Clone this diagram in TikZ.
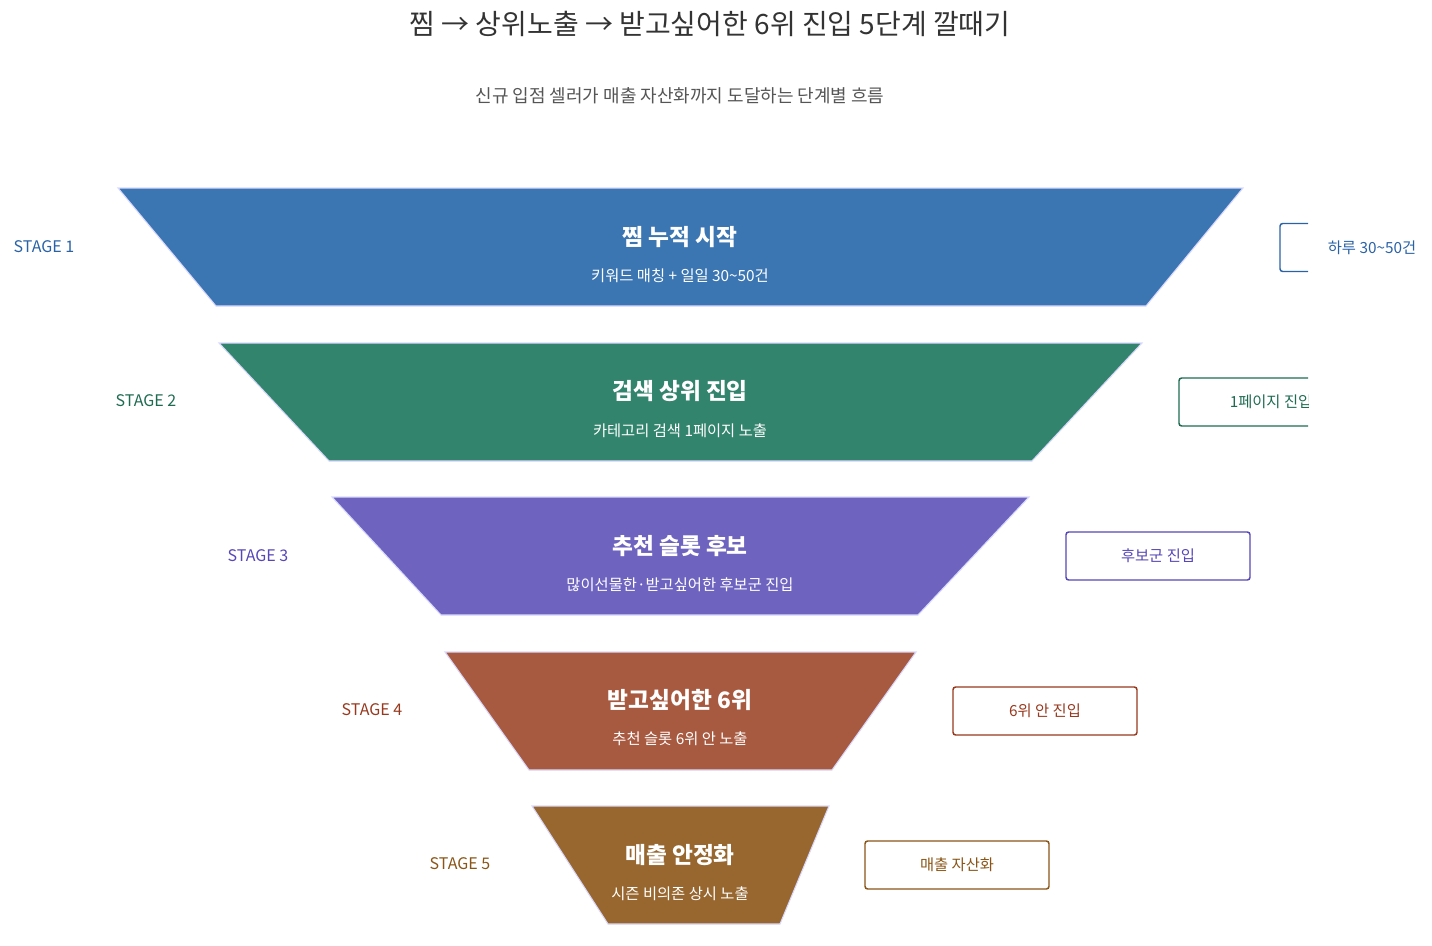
\documentclass[tikz,border=0pt]{standalone}
\usepackage{fontspec}
\setmainfont{Noto Sans CJK KR}
\newfontfamily\kb{Noto Sans CJK KR}[BoldFont={* Bold}]
\begin{document}
\begin{tikzpicture}[x=0.75pt,y=-0.75pt,
 trap/.style={draw=white!85!blue,line width=0.8pt},
 main/.style={text=white,font=\bfseries\fontsize{17}{20}\selectfont},
 sub/.style={text=white,font=\fontsize{11.5}{14}\selectfont},
 stg/.style={font=\fontsize{12}{14}\selectfont},
 bx/.style={draw,line width=1.1pt,rounded corners=2pt,font=\fontsize{11.5}{14}\selectfont,minimum width=138pt,minimum height=36pt,inner sep=0pt}]
\useasboundingbox (0,0) rectangle (1432,946);
\definecolor{c1}{HTML}{3B76B2}\definecolor{d1}{HTML}{2A62A6}
\definecolor{c2}{HTML}{33846D}\definecolor{d2}{HTML}{1F6B52}
\definecolor{c3}{HTML}{6E64C0}\definecolor{d3}{HTML}{5646B8}
\definecolor{c4}{HTML}{A85A40}\definecolor{d4}{HTML}{97391E}
\definecolor{c5}{HTML}{97672F}\definecolor{d5}{HTML}{8A5516}
\node (title) at (710,24) {\fontsize{21}{25}\selectfont\color[HTML]{333333}찜 → 상위노출 → 받고싶어한 6위 진입 5단계 깔때기};
\node (subt) at (680,96) {\fontsize{13.5}{16}\selectfont\color[HTML]{555555}신규 입점 셀러가 매출 자산화까지 도달하는 단계별 흐름};
\newcommand\stagebox[9]{%
 \fill[#1] (#2,#4) -- (#3,#4) -- (#3-#5+#2+#6,#4+118) -- (#6,#4+118) -- cycle;
 \draw[trap] (#2,#4) -- (#3,#4) -- (#3-#5+#2+#6,#4+118) -- (#6,#4+118) -- cycle;}
% stage 1
\fill[c1] (118,188) -- (1243,188) -- (1146,306) -- (216,306) -- cycle;
\draw[trap] (118,188) -- (1243,188) -- (1146,306) -- (216,306) -- cycle;
\fill[c2] (219,343) -- (1142,343) -- (1032,461) -- (329,461) -- cycle;
\draw[trap] (219,343) -- (1142,343) -- (1032,461) -- (329,461) -- cycle;
\fill[c3] (332,497) -- (1029,497) -- (918,615) -- (441,615) -- cycle;
\draw[trap] (332,497) -- (1029,497) -- (918,615) -- (441,615) -- cycle;
\fill[c4] (445,652) -- (916,652) -- (832,770) -- (529,770) -- cycle;
\draw[trap] (445,652) -- (916,652) -- (832,770) -- (529,770) -- cycle;
\fill[c5] (532,806) -- (829,806) -- (780,924) -- (608,924) -- cycle;
\draw[trap] (532,806) -- (829,806) -- (780,924) -- (608,924) -- cycle;
\node[main] (m1) at (680,237) {찜 누적 시작};
\node[sub] (s1) at (680,276) {키워드 매칭 + 일일 30\textasciitilde50건};
\node[main] (m2) at (680,391) {검색 상위 진입};
\node[sub] (s2) at (680,431) {카테고리 검색 1페이지 노출};
\node[main] (m3) at (680,546) {추천 슬롯 후보};
\node[sub] (s3) at (680,585) {많이선물한·받고싶어한 후보군 진입};
\node[main] (m4) at (680,700) {받고싶어한 6위};
\node[sub] (s4) at (680,739) {추천 슬롯 6위 안 노출};
\node[main] (m5) at (680,855) {매출 안정화};
\node[sub] (s5) at (680,894) {시즌 비의존 상시 노출};
\node[stg,text=d1] (l1) at (44,247) {STAGE 1};
\node[stg,text=d2] (l2) at (146,401) {STAGE 2};
\node[stg,text=d3] (l3) at (258,556) {STAGE 3};
\node[stg,text=d4] (l4) at (372,710) {STAGE 4};
\node[stg,text=d5] (l5) at (460,864) {STAGE 5};
\begin{scope}
\clip (0,0) rectangle (1308,946);
\node[bx,draw=d1] (b1) at (1372,247.5) {};
\node[bx,draw=d2,text=d2] (b2) at (1271,402) {1페이지 진입};
\end{scope}
\node[text=d1,font=\fontsize{11.5}{14}\selectfont] (t1) at (1372,247.5) {하루 30\textasciitilde50건};
\node[bx,draw=d3,text=d3] (b3) at (1158,556) {후보군 진입};
\node[bx,draw=d4,text=d4] (b4) at (1045,711) {6위 안 진입};
\node[bx,draw=d5,text=d5] (b5) at (957,865) {매출 자산화};
\end{tikzpicture}
\end{document}
